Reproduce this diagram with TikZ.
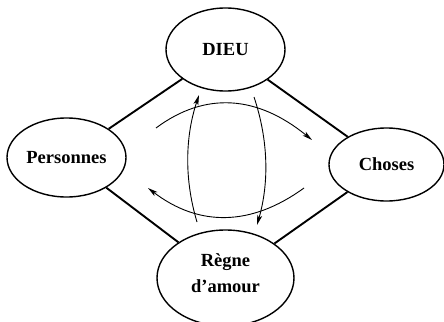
\documentclass[tikz,border=0pt]{standalone}
\usepackage{fontspec}
\setmainfont{Liberation Serif}
\usetikzlibrary{shapes.geometric,arrows.meta}
\begin{document}
\begin{tikzpicture}[x=1pt,y=-1pt,
  pole/.style={ellipse,draw,line width=1.4pt,inner sep=0pt,align=center,
    font=\fontsize{18.5}{26}\selectfont\bfseries},
  link/.style={line width=1.9pt},
  flow/.style={line width=0.9pt,-{Stealth[length=10pt,width=5pt,inset=2.5pt]}}]
\useasboundingbox (0,0) rectangle (444,321);

% the four poles
\node[pole,minimum width=119pt,minimum height=83pt] (dieu) at (225.5,49.5) {DIEU};
\node[pole,minimum width=119pt,minimum height=79pt] (pers) at (66.5,157.5) {Personnes};
\node[pole,minimum width=115pt,minimum height=73pt] (chos) at (386.5,164.5) {Choses};
\node[pole,minimum width=137pt,minimum height=96pt,text depth=10pt] (regne) at (225.5,278) {Règne\\d'amour};

% the rhombus of links
\draw[link] (dieu) -- (pers);
\draw[link] (dieu) -- (chos);
\draw[link] (pers) -- (regne);
\draw[link] (chos) -- (regne);

% end points of the circulating arcs
\coordinate (tA) at (156,128);
\coordinate (tB) at (312,140);
\coordinate (bA) at (304,188);
\coordinate (bB) at (148,188);
\coordinate (lA) at (197,222);
\coordinate (lB) at (199,95);
\coordinate (rA) at (254,97);
\coordinate (rB) at (257,225);

% circulating arcs
\draw[flow] (tA) .. controls (205.3,91.3) and (257.3,95.3) .. (tB);
\draw[flow] (bA) .. controls (250.7,226.7) and (198.7,226.7) .. (bB);
\draw[flow] (lA) .. controls (184.3,179.7) and (185,137.3) .. (lB);
\draw[flow] (rA) .. controls (268.3,139.7) and (269.3,182.3) .. (rB);
\end{tikzpicture}
\end{document}
